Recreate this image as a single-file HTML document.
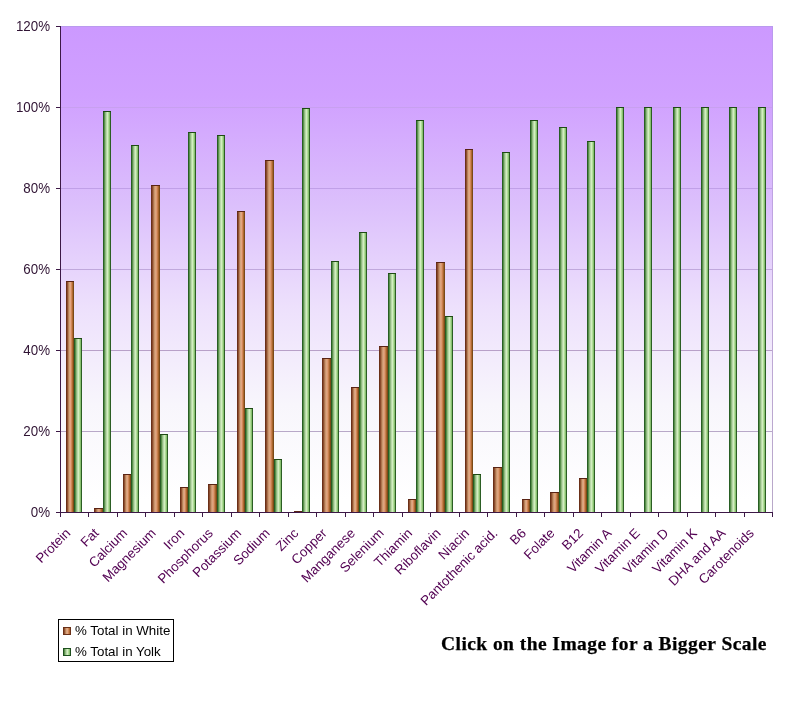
<!DOCTYPE html><html><head><meta charset="utf-8"><title>Egg nutrients chart</title><style>html,body{margin:0;padding:0;background:#fff;width:792px;height:710px;overflow:hidden}svg{display:block;will-change:transform}.ax{font-family:"Liberation Sans",Arial,sans-serif;font-size:13.33px}</style></head><body><svg width="792" height="710" viewBox="0 0 792 710"><defs><linearGradient id="bg" x1="0" y1="0" x2="0" y2="1"><stop offset="0" stop-color="#CC99FF"/><stop offset="0.144" stop-color="#D0A0FF"/><stop offset="0.37" stop-color="#DCC0FC"/><stop offset="0.576" stop-color="#EDE0FC"/><stop offset="0.78" stop-color="#F8F6FC"/><stop offset="0.975" stop-color="#FFFFFF"/><stop offset="1" stop-color="#FFFFFF"/></linearGradient><linearGradient id="og" x1="0" y1="0" x2="1" y2="0"><stop offset="0" stop-color="#6A3018"/><stop offset="0.0625" stop-color="#6A3018"/><stop offset="0.1875" stop-color="#905030"/><stop offset="0.3125" stop-color="#B88058"/><stop offset="0.4375" stop-color="#D4A47C"/><stop offset="0.5625" stop-color="#E4A480"/><stop offset="0.6875" stop-color="#D08858"/><stop offset="0.8125" stop-color="#B06830"/><stop offset="0.9375" stop-color="#7A4A18"/><stop offset="1" stop-color="#7A4A18"/></linearGradient><linearGradient id="gg" x1="0" y1="0" x2="1" y2="0"><stop offset="0" stop-color="#285E24"/><stop offset="0.0625" stop-color="#285E24"/><stop offset="0.1875" stop-color="#58904A"/><stop offset="0.3125" stop-color="#90BA80"/><stop offset="0.4375" stop-color="#B8D8A8"/><stop offset="0.5625" stop-color="#D2EEC0"/><stop offset="0.6875" stop-color="#B0DC98"/><stop offset="0.8125" stop-color="#88C070"/><stop offset="0.9375" stop-color="#2C5E24"/><stop offset="1" stop-color="#2C5E24"/></linearGradient></defs><rect x="61" y="26" width="712" height="486" fill="url(#bg)"/><rect x="61" y="431" width="712" height="1" fill="#B8A8C8"/><rect x="61" y="350" width="712" height="1" fill="#B8A0C8"/><rect x="61" y="269" width="712" height="1" fill="#C0A8DC"/><rect x="61" y="188" width="712" height="1" fill="#C0A0E8"/><rect x="61" y="107" width="712" height="1" fill="#C8A0F0"/><rect x="61" y="26" width="712" height="1" fill="#BA9AEE"/><linearGradient id="rb" x1="0" y1="0" x2="0" y2="1"><stop offset="0" stop-color="#BA9AEE"/><stop offset="0.5" stop-color="#C0A8DC"/><stop offset="1" stop-color="#B8A8C8"/></linearGradient><rect x="772" y="26" width="1" height="486" fill="url(#rb)"/><rect x="66" y="281" width="8" height="231" fill="url(#og)"/><rect x="66" y="281" width="8" height="1" fill="#5A2414"/><rect x="74" y="338" width="8" height="174" fill="url(#gg)"/><rect x="74" y="338" width="8" height="1" fill="#1E4A14"/><rect x="94" y="508" width="9" height="4" fill="url(#og)"/><rect x="94" y="508" width="9" height="1" fill="#5A2414"/><rect x="103" y="111" width="8" height="401" fill="url(#gg)"/><rect x="103" y="111" width="8" height="1" fill="#1E4A14"/><rect x="123" y="474" width="8" height="38" fill="url(#og)"/><rect x="123" y="474" width="8" height="1" fill="#5A2414"/><rect x="131" y="145" width="8" height="367" fill="url(#gg)"/><rect x="131" y="145" width="8" height="1" fill="#1E4A14"/><rect x="151" y="185" width="9" height="327" fill="url(#og)"/><rect x="151" y="185" width="9" height="1" fill="#5A2414"/><rect x="160" y="434" width="8" height="78" fill="url(#gg)"/><rect x="160" y="434" width="8" height="1" fill="#1E4A14"/><rect x="180" y="487" width="8" height="25" fill="url(#og)"/><rect x="180" y="487" width="8" height="1" fill="#5A2414"/><rect x="188" y="132" width="8" height="380" fill="url(#gg)"/><rect x="188" y="132" width="8" height="1" fill="#1E4A14"/><rect x="208" y="484" width="9" height="28" fill="url(#og)"/><rect x="208" y="484" width="9" height="1" fill="#5A2414"/><rect x="217" y="135" width="8" height="377" fill="url(#gg)"/><rect x="217" y="135" width="8" height="1" fill="#1E4A14"/><rect x="237" y="211" width="8" height="301" fill="url(#og)"/><rect x="237" y="211" width="8" height="1" fill="#5A2414"/><rect x="245" y="408" width="8" height="104" fill="url(#gg)"/><rect x="245" y="408" width="8" height="1" fill="#1E4A14"/><rect x="265" y="160" width="9" height="352" fill="url(#og)"/><rect x="265" y="160" width="9" height="1" fill="#5A2414"/><rect x="274" y="459" width="8" height="53" fill="url(#gg)"/><rect x="274" y="459" width="8" height="1" fill="#1E4A14"/><rect x="294" y="511" width="8" height="1" fill="url(#og)"/><rect x="294" y="511" width="8" height="1" fill="#5A2414"/><rect x="302" y="108" width="8" height="404" fill="url(#gg)"/><rect x="302" y="108" width="8" height="1" fill="#1E4A14"/><rect x="322" y="358" width="9" height="154" fill="url(#og)"/><rect x="322" y="358" width="9" height="1" fill="#5A2414"/><rect x="331" y="261" width="8" height="251" fill="url(#gg)"/><rect x="331" y="261" width="8" height="1" fill="#1E4A14"/><rect x="351" y="387" width="8" height="125" fill="url(#og)"/><rect x="351" y="387" width="8" height="1" fill="#5A2414"/><rect x="359" y="232" width="8" height="280" fill="url(#gg)"/><rect x="359" y="232" width="8" height="1" fill="#1E4A14"/><rect x="379" y="346" width="9" height="166" fill="url(#og)"/><rect x="379" y="346" width="9" height="1" fill="#5A2414"/><rect x="388" y="273" width="8" height="239" fill="url(#gg)"/><rect x="388" y="273" width="8" height="1" fill="#1E4A14"/><rect x="408" y="499" width="8" height="13" fill="url(#og)"/><rect x="408" y="499" width="8" height="1" fill="#5A2414"/><rect x="416" y="120" width="8" height="392" fill="url(#gg)"/><rect x="416" y="120" width="8" height="1" fill="#1E4A14"/><rect x="436" y="262" width="9" height="250" fill="url(#og)"/><rect x="436" y="262" width="9" height="1" fill="#5A2414"/><rect x="445" y="316" width="8" height="196" fill="url(#gg)"/><rect x="445" y="316" width="8" height="1" fill="#1E4A14"/><rect x="465" y="149" width="8" height="363" fill="url(#og)"/><rect x="465" y="149" width="8" height="1" fill="#5A2414"/><rect x="473" y="474" width="8" height="38" fill="url(#gg)"/><rect x="473" y="474" width="8" height="1" fill="#1E4A14"/><rect x="493" y="467" width="9" height="45" fill="url(#og)"/><rect x="493" y="467" width="9" height="1" fill="#5A2414"/><rect x="502" y="152" width="8" height="360" fill="url(#gg)"/><rect x="502" y="152" width="8" height="1" fill="#1E4A14"/><rect x="522" y="499" width="8" height="13" fill="url(#og)"/><rect x="522" y="499" width="8" height="1" fill="#5A2414"/><rect x="530" y="120" width="8" height="392" fill="url(#gg)"/><rect x="530" y="120" width="8" height="1" fill="#1E4A14"/><rect x="550" y="492" width="9" height="20" fill="url(#og)"/><rect x="550" y="492" width="9" height="1" fill="#5A2414"/><rect x="559" y="127" width="8" height="385" fill="url(#gg)"/><rect x="559" y="127" width="8" height="1" fill="#1E4A14"/><rect x="579" y="478" width="8" height="34" fill="url(#og)"/><rect x="579" y="478" width="8" height="1" fill="#5A2414"/><rect x="587" y="141" width="8" height="371" fill="url(#gg)"/><rect x="587" y="141" width="8" height="1" fill="#1E4A14"/><rect x="616" y="107" width="8" height="405" fill="url(#gg)"/><rect x="616" y="107" width="8" height="1" fill="#1E4A14"/><rect x="644" y="107" width="8" height="405" fill="url(#gg)"/><rect x="644" y="107" width="8" height="1" fill="#1E4A14"/><rect x="673" y="107" width="8" height="405" fill="url(#gg)"/><rect x="673" y="107" width="8" height="1" fill="#1E4A14"/><rect x="701" y="107" width="8" height="405" fill="url(#gg)"/><rect x="701" y="107" width="8" height="1" fill="#1E4A14"/><rect x="729" y="107" width="8" height="405" fill="url(#gg)"/><rect x="729" y="107" width="8" height="1" fill="#1E4A14"/><rect x="758" y="107" width="8" height="405" fill="url(#gg)"/><rect x="758" y="107" width="8" height="1" fill="#1E4A14"/><rect x="60" y="26" width="1" height="487" fill="#3C1846"/><rect x="60" y="512" width="713" height="1" fill="#3C1846"/><rect x="56" y="512" width="4" height="1" fill="#3C1846"/><rect x="56" y="431" width="4" height="1" fill="#3C1846"/><rect x="56" y="350" width="4" height="1" fill="#3C1846"/><rect x="56" y="269" width="4" height="1" fill="#3C1846"/><rect x="56" y="188" width="4" height="1" fill="#3C1846"/><rect x="56" y="107" width="4" height="1" fill="#3C1846"/><rect x="56" y="26" width="4" height="1" fill="#3C1846"/><rect x="60" y="513" width="1" height="4" fill="#3C1846"/><rect x="88" y="513" width="1" height="4" fill="#3C1846"/><rect x="117" y="513" width="1" height="4" fill="#3C1846"/><rect x="145" y="513" width="1" height="4" fill="#3C1846"/><rect x="174" y="513" width="1" height="4" fill="#3C1846"/><rect x="202" y="513" width="1" height="4" fill="#3C1846"/><rect x="231" y="513" width="1" height="4" fill="#3C1846"/><rect x="259" y="513" width="1" height="4" fill="#3C1846"/><rect x="288" y="513" width="1" height="4" fill="#3C1846"/><rect x="316" y="513" width="1" height="4" fill="#3C1846"/><rect x="345" y="513" width="1" height="4" fill="#3C1846"/><rect x="373" y="513" width="1" height="4" fill="#3C1846"/><rect x="402" y="513" width="1" height="4" fill="#3C1846"/><rect x="430" y="513" width="1" height="4" fill="#3C1846"/><rect x="459" y="513" width="1" height="4" fill="#3C1846"/><rect x="487" y="513" width="1" height="4" fill="#3C1846"/><rect x="516" y="513" width="1" height="4" fill="#3C1846"/><rect x="544" y="513" width="1" height="4" fill="#3C1846"/><rect x="573" y="513" width="1" height="4" fill="#3C1846"/><rect x="601" y="513" width="1" height="4" fill="#3C1846"/><rect x="630" y="513" width="1" height="4" fill="#3C1846"/><rect x="658" y="513" width="1" height="4" fill="#3C1846"/><rect x="687" y="513" width="1" height="4" fill="#3C1846"/><rect x="715" y="513" width="1" height="4" fill="#3C1846"/><rect x="744" y="513" width="1" height="4" fill="#3C1846"/><rect x="772" y="513" width="1" height="4" fill="#3C1846"/><g class="ax" fill="#301434" text-anchor="end"><text transform="translate(50 517) scale(1 1.08)">0%</text><text transform="translate(50 436) scale(1 1.08)">20%</text><text transform="translate(50 355) scale(1 1.08)">40%</text><text transform="translate(50 274) scale(1 1.08)">60%</text><text transform="translate(50 193) scale(1 1.08)">80%</text><text transform="translate(50 112) scale(1 1.08)">100%</text><text transform="translate(50 31) scale(1 1.08)">120%</text></g><g class="ax xl" fill="#520052" text-anchor="end"><text transform="translate(71.2 534.0) rotate(-45)">Protein</text><text transform="translate(99.7 534.0) rotate(-45)">Fat</text><text transform="translate(128.2 534.0) rotate(-45)">Calcium</text><text transform="translate(156.7 534.0) rotate(-45)">Magnesium</text><text transform="translate(185.2 534.0) rotate(-45)">Iron</text><text transform="translate(213.6 534.0) rotate(-45)">Phosphorus</text><text transform="translate(242.1 534.0) rotate(-45)">Potassium</text><text transform="translate(270.6 534.0) rotate(-45)">Sodium</text><text transform="translate(299.1 534.0) rotate(-45)">Zinc</text><text transform="translate(327.6 534.0) rotate(-45)">Copper</text><text transform="translate(356.0 534.0) rotate(-45)">Manganese</text><text transform="translate(384.5 534.0) rotate(-45)">Selenium</text><text transform="translate(413.0 534.0) rotate(-45)">Thiamin</text><text transform="translate(441.5 534.0) rotate(-45)">Riboflavin</text><text transform="translate(470.0 534.0) rotate(-45)">Niacin</text><text transform="translate(498.4 534.0) rotate(-45)">Pantothenic acid.</text><text transform="translate(526.9 534.0) rotate(-45)">B6</text><text transform="translate(555.4 534.0) rotate(-45)">Folate</text><text transform="translate(583.9 534.0) rotate(-45)">B12</text><text transform="translate(612.4 534.0) rotate(-45)">Vitamin A</text><text transform="translate(640.8 534.0) rotate(-45)">Vitamin E</text><text transform="translate(669.3 534.0) rotate(-45)">Vitamin D</text><text transform="translate(697.8 534.0) rotate(-45)">Vitamin K</text><text transform="translate(726.3 534.0) rotate(-45)">DHA and AA</text><text transform="translate(754.8 534.0) rotate(-45)">Carotenoids</text></g><rect x="58.5" y="619.5" width="115" height="42" fill="#fff" stroke="#000" stroke-width="1"/><rect x="63" y="627" width="8" height="8" fill="url(#og)"/><rect x="63.5" y="627.5" width="7" height="7" fill="none" stroke="#6A3018"/><rect x="63" y="648" width="8" height="8" fill="url(#gg)"/><rect x="63.5" y="648.5" width="7" height="7" fill="none" stroke="#1E501E"/><g class="ax" fill="#000"><text x="75" y="635">% Total in White</text><text x="75" y="656">% Total in Yolk</text></g><text x="441" y="650" style="font-family:'Liberation Serif','Times New Roman',serif;font-weight:bold;font-size:19.5px;letter-spacing:0.44px" fill="#000" stroke="#000" stroke-width="0.25">Click on the Image for a Bigger Scale</text></svg></body></html>
